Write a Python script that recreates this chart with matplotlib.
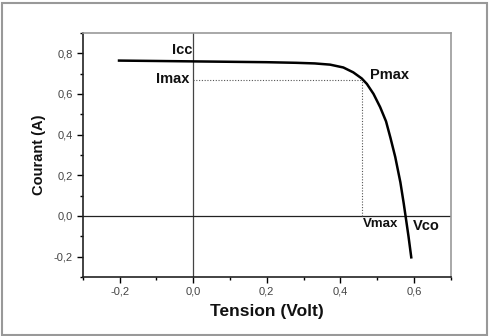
import numpy as np
import matplotlib
matplotlib.use('Agg')
import matplotlib.pyplot as plt
import matplotlib.ticker as tic
from matplotlib.patches import Rectangle

plt.rcParams['font.family'] = ['Liberation Sans', 'DejaVu Sans']

# courbe I(V)
V = [-0.205, -0.1, 0.0, 0.1, 0.2, 0.28, 0.33, 0.372, 0.408, 0.435, 0.458, 0.472, 0.49,
     0.508, 0.524, 0.536, 0.549, 0.563, 0.572, 0.577, 0.585, 0.593]
I = [0.764, 0.762, 0.760, 0.758, 0.756, 0.753, 0.750, 0.744, 0.730, 0.706, 0.676, 0.649, 0.600,
     0.535, 0.465, 0.384, 0.290, 0.165, 0.062, 0.0, -0.10, -0.21]
Vmax = 0.458
Imax = 0.67

fig = plt.figure(figsize=(4.9, 3.36), dpi=100)
fig.patches.append(Rectangle((0.004, 0.004), 0.99, 0.988, transform=fig.transFigure,
                             fill=False, edgecolor='#999999', linewidth=1.5))
ax = fig.add_axes([0.169, 0.176, 0.751, 0.726])

ax.axvline(0, color='#444444', lw=0.9, zorder=1)
ax.axhline(0, color='#222222', lw=0.9, zorder=1)
ax.plot([0, Vmax], [Imax, Imax], ls=(0, (1, 1.5)), color='#555555', lw=0.8)
ax.plot([Vmax, Vmax], [0, Imax], ls=(0, (1, 1.5)), color='#555555', lw=0.8)
ax.plot(V, I, color='black', lw=1.8, solid_joinstyle='round', solid_capstyle='butt', zorder=3)

ax.set_xlim(-0.3, 0.7)
ax.set_ylim(-0.3, 0.9)
ax.xaxis.set_major_locator(tic.MultipleLocator(0.2))
ax.xaxis.set_minor_locator(tic.MultipleLocator(0.1))
ax.yaxis.set_major_locator(tic.MultipleLocator(0.2))
ax.yaxis.set_minor_locator(tic.MultipleLocator(0.1))
fmt = tic.FuncFormatter(lambda v, p: ('%.1f' % v).replace('.', ',').replace('-0,0', '0,0'))
ax.xaxis.set_major_formatter(fmt)
ax.yaxis.set_major_formatter(fmt)
ax.tick_params(which='major', direction='out', length=4, width=1, labelsize=8, labelcolor='#444444', pad=3)
ax.tick_params(which='minor', direction='out', length=2.5, width=1)

for s in ['left', 'bottom']:
    ax.spines[s].set_color('#222222')
    ax.spines[s].set_linewidth(1.2)
for s in ['top', 'right']:
    ax.spines[s].set_color('#999999')
    ax.spines[s].set_linewidth(1.2)

ax.set_xlabel('Tension (Volt)', fontsize=12.5, fontweight='bold', labelpad=5, color='#111111')
ax.set_ylabel('Courant (A)', fontsize=10.5, fontweight='bold', labelpad=6, color='#111111')

tk = dict(fontsize=10.5, fontweight='bold', color='#111111')
ax.text(-0.003, 0.815, 'Icc', ha='right', va='center', **tk)
ax.text(-0.01, 0.672, 'Imax', ha='right', va='center', **tk)
ax.text(0.48, 0.695, 'Pmax', ha='left', va='center', **tk)
ax.text(0.461, -0.04, 'Vmax', ha='left', va='center', fontsize=9.5, fontweight='bold', color='#111111')
ax.text(0.598, -0.05, 'Vco', ha='left', va='center', **tk)

fig.savefig('out.png', dpi=100)
